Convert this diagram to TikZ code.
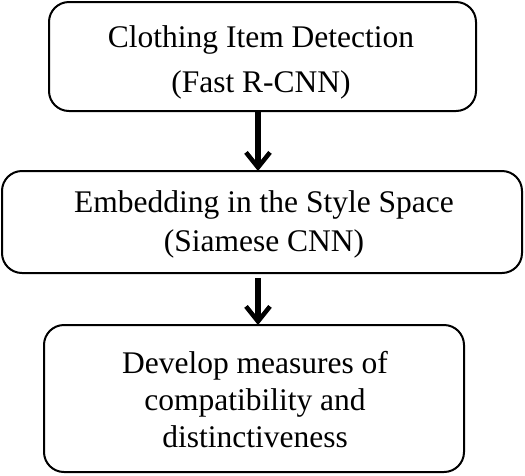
\documentclass[tikz,border=0pt]{standalone}
\usepackage{fontspec}
\setmainfont{Liberation Serif}
\usetikzlibrary{arrows.meta}
\begin{document}
\begin{tikzpicture}[x=1pt,y=-1pt,
  box/.style={draw, line width=2pt, rounded corners=20pt, rectangle, inner sep=0pt, outer sep=0pt},
  txt/.style={anchor=base, inner sep=0pt, font=\fontsize{31.5pt}{38pt}\selectfont},
  arr/.style={line width=5.5pt, -{Straight Barb[length=15pt,width=24pt,line width=4.5pt]}}]
\useasboundingbox (0,0) rectangle (525,475);
\node[box, minimum width=427pt, minimum height=109pt] (b1) at (262.5,56.5) {};
\node[box, minimum width=520pt, minimum height=102pt] (b2) at (262,222) {};
\node[box, minimum width=420pt, minimum height=147pt] (b3) at (254,398.5) {};
\node[txt] (t1a) at (261,47) {Clothing Item Detection};
\node[txt] (t1b) at (261,92) {(Fast R-CNN)};
\node[txt] (t2a) at (264,212) {Embedding in the Style Space};
\node[txt] (t2b) at (264,251) {(Siamese CNN)};
\node[txt] (t3a) at (255,373) {Develop measures of};
\node[txt] (t3b) at (255,410) {compatibility and};
\node[txt] (t3c) at (255,447) {distinctiveness};
\coordinate (ax) at (258,0);
\draw[arr] (b1.south -| ax) -- (b2.north -| ax);
\draw[arr, shorten <=5pt] (b2.south -| ax) -- (b3.north -| ax);
\end{tikzpicture}
\end{document}
